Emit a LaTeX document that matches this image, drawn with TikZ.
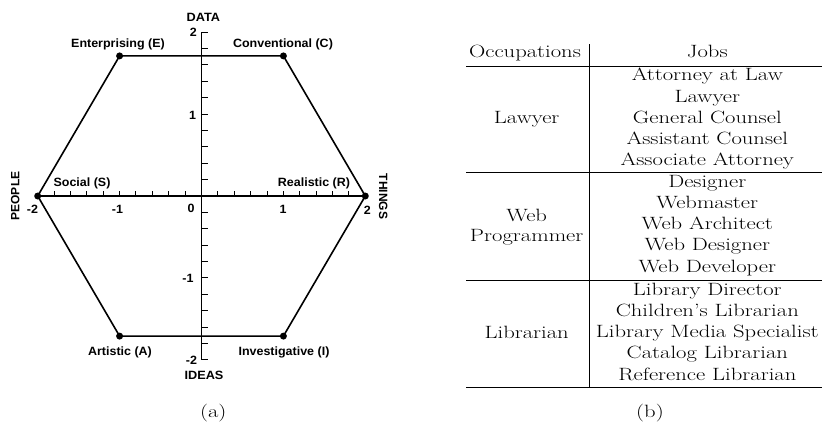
\documentclass[tikz,border=0pt]{standalone}
\usepackage{fontspec}
\newfontfamily\chartfont{Liberation Sans}
\begin{document}
\begin{tikzpicture}[x=1pt,y=-1pt,
  lbl/.style={font=\chartfont\bfseries\fontsize{12}{14}\selectfont, xscale=1.04, inner sep=0pt, text height=8.6pt, text depth=0pt},
  axname/.style={font=\chartfont\bfseries\fontsize{12}{14}\selectfont, inner sep=0pt, text height=8.6pt, text depth=0pt},
  num/.style={font=\chartfont\bfseries\fontsize{12}{14}\selectfont, xscale=1.04, inner sep=0pt, text height=8.6pt, text depth=0pt},
  tab/.style={font=\fontsize{17.8}{21}\selectfont, xscale=1.27, inner sep=0pt, text height=12.2pt, text depth=3.5pt},
  axisline/.style={line width=1.3pt},
  tickline/.style={line width=1pt},
  hexline/.style={line width=1.6pt, line join=round},
  rule/.style={line width=0.9pt},
  vdot/.style={circle, fill=black, inner sep=0pt, minimum size=7pt}
]
\useasboundingbox (0,0) rectangle (822,424);

% ---------- (a) hexagon chart ----------
\coordinate (O) at (201.5,196);
\coordinate (xl) at (37.7,196);
\coordinate (xr) at (365.3,196);
\coordinate (yt) at (201.5,32.2);
\coordinate (yb) at (201.5,359.8);

\draw[axisline] (xl) -- (xr);
\draw[axisline] (yt) -- (yb);
\foreach \k in {1,...,9,11,12,...,19} {
  \draw[tickline] (37.7+\k*16.38,196) -- ++(0,-5);
}
\foreach \k in {0,...,9,11,12,...,20} {
  \draw[tickline] (201.5,32.2+\k*16.38) -- ++(6.5,0);
}

\node[vdot] (R) at (365.3,196) {};
\node[vdot] (C) at (283.4,55.9) {};
\node[vdot] (E) at (119.6,55.9) {};
\node[vdot] (S) at (37.7,196) {};
\node[vdot] (A) at (119.6,336.1) {};
\node[vdot] (I) at (283.4,336.1) {};
\draw[hexline] (R.center) -- (C.center) -- (E.center) -- (S.center) -- (A.center) -- (I.center) -- cycle;

\node[lbl] (lE) at (118,43) {Enterprising (E)};
\node[lbl] (lC) at (283,43) {Conventional (C)};
\node[lbl] (lS) at (82,182) {Social (S)};
\node[lbl] (lR) at (314,182) {Realistic (R)};
\node[lbl] (lA) at (120,351) {Artistic (A)};
\node[lbl] (lI) at (284,351) {Investigative (I)};

\node[axname, xscale=1.06] (data) at (203.3,16.7) {DATA};
\node[axname, xscale=1.06] (ideas) at (204,375) {IDEAS};
\node[axname, rotate=90] (people) at (15,196) {PEOPLE};
\node[axname, rotate=-90] (things) at (383.3,196.5) {THINGS};

\node[num] (ny2) at (193.3,32.3) {2};
\node[num] (ny1) at (192.7,115) {1};
\node[num] (ny0) at (191,208.3) {0};
\node[num] (nym1) at (188,277.9) {-1};
\node[num] (nym2) at (191.5,360.5) {-2};
\node[num] (nxm2) at (32.5,209.3) {-2};
\node[num] (nxm1) at (117.5,209.3) {-1};
\node[num] (nx1) at (283,209.3) {1};
\node[num] (nx2) at (367.3,209.8) {2};

\node[tab] (capa) at (213.3,413) {(a)};

% ---------- (b) table ----------
\coordinate (vtop) at (589.3,44.3);
\coordinate (vbot) at (589.3,387.3);
\coordinate (r1l) at (466,66);    \coordinate (r1r) at (822,66);
\coordinate (r2l) at (466,172.7); \coordinate (r2r) at (822,172.7);
\coordinate (r3l) at (466,280.7); \coordinate (r3r) at (822,280.7);
\coordinate (r4l) at (466,387.3); \coordinate (r4r) at (822,387.3);
\draw[rule] (vtop) -- (vbot);
\draw[rule] (r1l) -- (r1r);
\draw[rule] (r2l) -- (r2r);
\draw[rule] (r3l) -- (r3r);
\draw[rule] (r4l) -- (r4r);

\node[tab] (hocc) at (525,53.3) {Occupations};
\node[tab] (hjobs) at (707.3,53.3) {Jobs};

\node[tab] (oLaw) at (526.7,119.4) {Lawyer};
\node[tab] (oWeb1) at (526.7,216.7) {Web};
\node[tab] (oWeb2) at (526.7,236.7) {Programmer};
\node[tab] (oLib) at (526.7,334) {Librarian};

\node[tab] (j1) at (707.3,76.6) {Attorney at Law};
\node[tab] (j2) at (707.3,97.7) {Lawyer};
\node[tab] (j3) at (707.3,118.8) {General Counsel};
\node[tab] (j4) at (707.3,139.9) {Assistant Counsel};
\node[tab] (j5) at (707.3,161.0) {Associate Attorney};
\node[tab] (j6) at (707.3,183.3) {Designer};
\node[tab] (j7) at (707.3,204.4) {Webmaster};
\node[tab] (j8) at (707.3,225.5) {Web Architect};
\node[tab] (j9) at (707.3,246.6) {Web Designer};
\node[tab] (j10) at (707.3,267.7) {Web Developer};
\node[tab] (j11) at (707.3,291.3) {Library Director};
\node[tab] (j12) at (707.3,312.4) {Children’s Librarian};
\node[tab] (j13) at (707.3,333.5) {Library Media Specialist};
\node[tab] (j14) at (707.3,354.6) {Catalog Librarian};
\node[tab] (j15) at (707.3,375.7) {Reference Librarian};

\node[tab] (capb) at (650,413) {(b)};
\end{tikzpicture}
\end{document}
